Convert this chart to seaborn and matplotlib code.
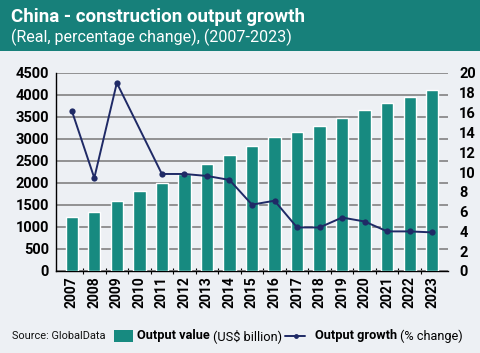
import numpy as np
import pandas as pd
import matplotlib
matplotlib.use("Agg")
import matplotlib.pyplot as plt
from matplotlib.patches import Rectangle
from matplotlib.lines import Line2D
from matplotlib.ticker import FixedLocator
import seaborn as sns

years = ["2007", "2008", "2009", "2010", "2011", "2012", "2013", "2014", "2015",
         "2016", "2017", "2018", "2019", "2020", "2021", "2022", "2023"]
output_value = [1230, 1330, 1600, 1820, 2000, 2200, 2425, 2635, 2835,
                3040, 3160, 3300, 3470, 3665, 3810, 3955, 4115]
output_growth = [16.2, 9.4, 19.0, 14.4, 9.8, 9.8, 9.6, 9.2, 6.7,
                 7.1, 4.4, 4.4, 5.4, 5.0, 4.0, 4.0, 3.9]
left_ticks = [0, 500, 1000, 1500, 2000, 2500, 3000, 3500, 4000, 4500]
right_ticks = [0, 2, 4, 6, 8, 10, 12, 14, 16, 18, 20]

title = "China - construction output growth"
subtitle = "(Real, percentage change), (2007-2023)"
source = "Source: GlobalData"

BG = "#edf0f4"
HEADER = "#17807a"
BAR = "#178a80"
LINE = "#1f2a66"
GRID = "#8a8a8a"

sns.set_theme(style="white")
plt.rcParams['font.family'] = ['Liberation Sans Narrow', 'Roboto', 'DejaVu Sans']

df = pd.DataFrame({"year": years, "value": output_value,
                   "growth": output_growth, "pos": np.arange(len(years))})

fig = plt.figure(figsize=(4.8, 3.53), dpi=100)
fig.patch.set_facecolor(BG)

# header band
fig.add_artist(Rectangle((0, 1 - 51 / 353), 1, 51 / 353, transform=fig.transFigure,
                         facecolor=HEADER, edgecolor="none", zorder=0))
fig.text(11 / 480, 1 - 17 / 353, title, color="white", fontsize=13.5,
         fontweight="bold", va="center", ha="left")
fig.text(11 / 480, 1 - 37 / 353, subtitle, color="white", fontsize=11.5,
         va="center", ha="left")

ax = fig.add_axes([56 / 480, 1 - 271 / 353, (448 - 56) / 480, (271 - 73) / 353])
ax.set_facecolor(BG)
sns.barplot(data=df, x="year", y="value", color=BAR, width=0.55,
            saturation=1, ax=ax, zorder=3)
ax.set_ylim(0, 4500)
ax.set_xlim(-0.7, len(years) - 0.3)
ax.yaxis.set_major_locator(FixedLocator(left_ticks))
ax.grid(axis="y", color=GRID, linewidth=1.3, zorder=0)
ax.set_axisbelow(True)
ax.set_xlabel("")
ax.set_ylabel("")
for s in ["top", "right"]:
    ax.spines[s].set_visible(False)
ax.spines["left"].set_color("black")
ax.spines["bottom"].set_color("black")
ax.spines["left"].set_linewidth(1.0)
ax.spines["bottom"].set_linewidth(1.0)
ax.tick_params(axis="y", length=0, pad=5, labelsize=10.5)
ax.tick_params(axis="x", length=0, pad=4, labelsize=10, rotation=90)
ax.xaxis.set_minor_locator(FixedLocator(np.arange(len(years) - 1) + 0.5))
ax.tick_params(axis="x", which="minor", length=4, direction="inout",
               color="black", width=0.8, bottom=True)
for lbl in ax.get_yticklabels() + ax.get_xticklabels():
    lbl.set_fontweight("bold")
    lbl.set_color("black")

ax2 = ax.twinx()
sns.lineplot(data=df, x="pos", y="growth", color=LINE, linewidth=1.4,
             marker="o", markersize=4.5, markeredgewidth=0,
             ax=ax2, zorder=5)
line = ax2.get_lines()[0]
line.set_markevery([i for i in range(len(years)) if i != 3])
ax2.set_ylim(0, 20)
ax2.yaxis.set_major_locator(FixedLocator(right_ticks))
ax2.set_ylabel("")
ax2.set_xlabel("")
ax2.grid(False)
for s in ["top", "right", "left", "bottom"]:
    ax2.spines[s].set_visible(False)
ax2.tick_params(axis="y", length=0, pad=8, labelsize=10.5)
for lbl in ax2.get_yticklabels():
    lbl.set_fontweight("bold")
    lbl.set_color("black")
ax2.set_xlim(-0.7, len(years) - 0.3)

# footer / legend
ly = 1 - 336 / 353
fig.text(12 / 480, ly, source, fontsize=7.9, va="center", ha="left", color="#111111")
fig.add_artist(Rectangle((114 / 480, ly - 6 / 353), 19 / 480, 12 / 353,
                         transform=fig.transFigure, facecolor=BAR, edgecolor="none"))
fig.canvas.draw()
r = fig.canvas.get_renderer()

def put(x, text, bold, size=9.2):
    t = fig.text(x, ly, text, fontsize=size, va="center", ha="left",
                 fontweight="bold" if bold else "normal", color="black")
    bb = t.get_window_extent(renderer=r)
    return x + bb.width / fig.bbox.width

x = put(137 / 480, "Output value", True)
put(x + 3 / 480, "(US$ billion)", False)
fig.add_artist(Line2D([285 / 480, 305 / 480], [ly, ly], transform=fig.transFigure,
                      color=LINE, linewidth=1.4))
fig.add_artist(Line2D([296 / 480], [ly], transform=fig.transFigure, color=LINE,
                      marker="o", markersize=3.5, markeredgewidth=0))
x = put(315 / 480, "Output growth", True)
put(x + 3 / 480, "(% change)", False)

fig.savefig("out.png", dpi=100, facecolor=BG)
